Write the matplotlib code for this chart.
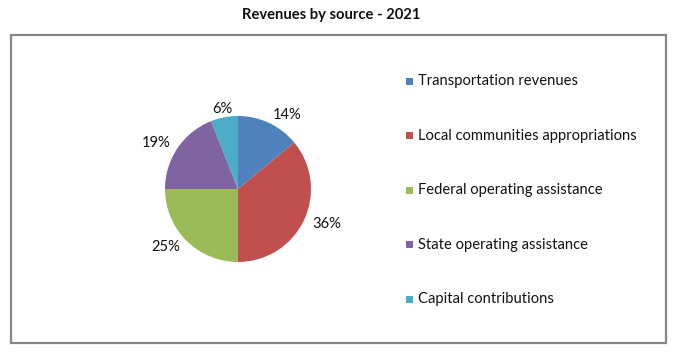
import numpy as np
import matplotlib.pyplot as plt
from matplotlib.patches import Rectangle

plt.rcParams['font.family'] = 'Lato'

sources = ['Transportation revenues', 'Local communities appropriations',
           'Federal operating assistance', 'State operating assistance',
           'Capital contributions']
shares = [14, 36, 25, 19, 6]
colors = ['#4F81BD', '#C0504D', '#9BBB59', '#8064A2', '#4BACC6']
title = 'Revenues by source - 2021'

W, H = 678, 352
fig = plt.figure(figsize=(W / 100, H / 100), dpi=100)

# grey frame around the chart area
fig.patches.append(Rectangle((10.5 / W, 1 - 343 / H), 655 / W, 308 / H,
                             transform=fig.transFigure, fill=False,
                             edgecolor='#868686', linewidth=1.6))

fig.text(331 / W, 1 - 15 / H, title, ha='center', va='center',
         fontsize=10.6, fontweight='bold', color='#111111')

# pie: centre (238, 189), radius ~73 px
r = 73
ax = fig.add_axes([(238 - r) / W, 1 - (189 + r) / H, 2 * r / W, 2 * r / H])
wedges, texts = ax.pie(shares, colors=colors, startangle=90,
                       counterclock=False, radius=1,
                       wedgeprops=dict(linewidth=0))
ax.set_xlim(-1, 1)
ax.set_ylim(-1, 1)
ax.set_aspect('equal')

# labels "outside end", Excel style
for w, v in zip(wedges, shares):
    ang = np.deg2rad((w.theta1 + w.theta2) / 2)
    x, y = 1.12 * np.cos(ang), 1.12 * np.sin(ang)
    if abs(np.cos(ang)) < 0.3:
        ha = 'center'
    else:
        ha = 'left' if x > 0 else 'right'
    ax.text(x, y, '%d%%' % v, ha=ha, va='center', fontsize=10.6,
            color='#111111', clip_on=False)

# legend
lx, ly0, dy = 406, 81, 54.5
for i, (lab, c) in enumerate(zip(sources, colors)):
    y = ly0 + i * dy
    fig.patches.append(Rectangle((lx / W, 1 - (y + 3.5) / H), 7 / W, 7 / H,
                                 transform=fig.transFigure, facecolor=c,
                                 edgecolor='none'))
    fig.text(418 / W, 1 - y / H, lab, ha='left', va='center',
             fontsize=10.6, color='#111111')

fig.savefig('out.png', dpi=100)
